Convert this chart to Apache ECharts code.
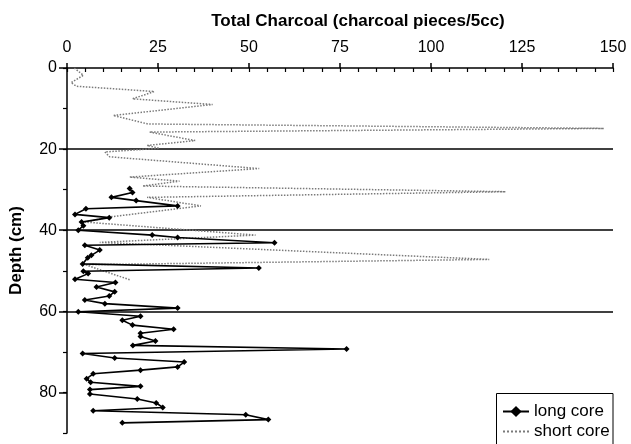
<!DOCTYPE html>
<html><head><meta charset="utf-8">
<script src="https://cdn.jsdelivr.net/npm/echarts@6/dist/echarts.min.js"></script>
<style>html,body{margin:0;padding:0;background:#fff}#c{width:631px;height:444px}</style>
</head><body><div id="c"></div>
<script>
// Long core: depth (cm) and total charcoal (pieces/5cc)
const longDepth = [29.7,30.7,31.9,32.7,34.0,34.7,36.1,36.9,38.0,38.9,40.0,41.2,41.8,43.1,43.7,44.9,46.2,46.8,48.3,49.3,50.1,50.7,52.1,52.9,54.0,55.2,56.2,57.2,58.1,59.2,60.1,61.2,62.2,63.4,64.4,65.4,66.2,67.3,68.4,69.3,70.4,71.5,72.5,73.7,74.5,75.4,76.6,77.5,78.5,79.3,80.4,81.6,82.6,83.7,84.5,85.5,86.7,87.5];
const longCharcoal = [17.2,18,12.2,19,30.4,5.2,2.2,11.6,4,4.5,3.1,23.4,30.4,57,4.9,9,6.7,5.7,4.3,52.7,4.5,5.8,2.2,13.3,8.1,13.1,11.6,4.9,10.4,30.4,3.1,20.2,15.2,18,29.3,20.2,20.2,24.3,18.1,76.8,4.3,13.1,32.2,30.4,20.2,7.2,5.4,6.5,20.2,6.3,6.3,19.3,24.5,26.3,7.2,49.1,55.3,15.2];
// Short core
const shortDepth = [0,1.8,3.6,4.5,5.8,7.6,9.0,11.7,13.8,14.9,15.8,17.9,19.1,19.8,20.7,21.9,24.8,26.9,27.9,29.1,30.5,31.9,34.0,36.7,38.0,41.2,43.0,47.2,48.5,52.3];
const shortCharcoal = [2,4.5,1.1,2.6,24,18,40,12.7,22.2,147.5,22.7,35.2,22,25.4,10.4,11.7,52.8,17.2,30.9,20.8,120.5,22,36.8,12,5,51.8,9,116,5,17.5];
// Axis ticks
const xTicks = [0,25,50,75,100,125,150];
const yTicks = [0,20,40,60,80];
const seriesNames = ['long core','short core'];
const titleText = 'Total Charcoal (charcoal pieces/5cc)';
const yName = 'Depth (cm)';

const font = '"Liberation Sans", Arial, sans-serif';
const chart = echarts.init(document.getElementById('c'), null, {renderer:'canvas'});
chart.setOption({
  animation: false,
  backgroundColor: '#fff',
  title: {text: titleText, left: 358, top: 13, padding: 0, textAlign: 'center',
    textStyle: {fontFamily: font, fontSize: 17, fontWeight: 'bold', color: '#000'}},
  grid: {left: 67, top: 68, right: 18, height: 365},
  xAxis: [
    {type: 'value', position: 'top', min: xTicks[0], max: xTicks[xTicks.length-1], interval: 25,
     axisLine: {lineStyle: {color: '#000', width: 1.5}},
     axisTick: {length: 5, lineStyle: {color: '#000', width: 1.5}},
     axisLabel: {fontFamily: font, fontSize: 16, color: '#000', margin: 12},
     splitLine: {show: false}},
    {type: 'value', position: 'top', min: xTicks[0], max: xTicks[xTicks.length-1], interval: 5,
     axisLine: {show: false},
     axisTick: {inside: true, length: 4, lineStyle: {color: '#000', width: 1.2}},
     axisLabel: {show: false}, splitLine: {show: false}}
  ],
  yAxis: [
    {type: 'value', inverse: true, min: 0, max: 90, interval: 20, position: 'left',
     name: yName, nameLocation: 'middle', nameGap: 42,
     nameTextStyle: {fontFamily: font, fontSize: 17, fontWeight: 'bold', color: '#000'},
     axisLine: {show: true, lineStyle: {color: '#000', width: 1.5}},
     axisTick: {show: true, length: 8, customValues: yTicks, lineStyle: {color: '#000', width: 1.5}},
     axisLabel: {customValues: yTicks, fontFamily: font, fontSize: 16, color: '#000', margin: 10},
     splitLine: {show: true, showMinLine: false, showMaxLine: false, lineStyle: {color: '#000', width: 1.5}}},
    {type: 'value', inverse: true, min: 0, max: 90, interval: 10, position: 'left', offset: 0,
     axisLine: {show: false},
     axisTick: {show: true, length: 4, lineStyle: {color: '#000', width: 1.2}},
     axisLabel: {show: false}, splitLine: {show: false}}
  ],
  graphic: [
    {type: 'rect', z: 10, shape: {x: 496.5, y: 393.5, width: 116.5, height: 70},
     style: {fill: '#fff', stroke: '#000', lineWidth: 1}}
  ],
  legend: {orient: 'vertical', left: 496, top: 394, padding: [9, 2, 2, 6], itemGap: 3,
    itemWidth: 26, itemHeight: 14, z: 20,
    textStyle: {fontFamily: font, fontSize: 17, color: '#000'},
    data: [{name: seriesNames[0]}, {name: seriesNames[1], itemStyle: {opacity: 0}}]},
  series: [
    {name: seriesNames[0], type: 'line', xAxisIndex: 0, yAxisIndex: 0, z: 4,
     data: longDepth.map((d, i) => [longCharcoal[i], d]),
     symbol: 'diamond', symbolSize: 6,
     lineStyle: {color: '#000', width: 1.6}, itemStyle: {color: '#000'}},
    {name: seriesNames[1], type: 'line', xAxisIndex: 0, yAxisIndex: 0, z: 3,
     data: shortDepth.map((d, i) => [shortCharcoal[i], d]),
     symbol: 'none',
     lineStyle: {color: '#7a7a7a', width: 1.5, type: 'dotted'}, itemStyle: {color: '#7a7a7a'}}
  ]
});
</script></body></html>
